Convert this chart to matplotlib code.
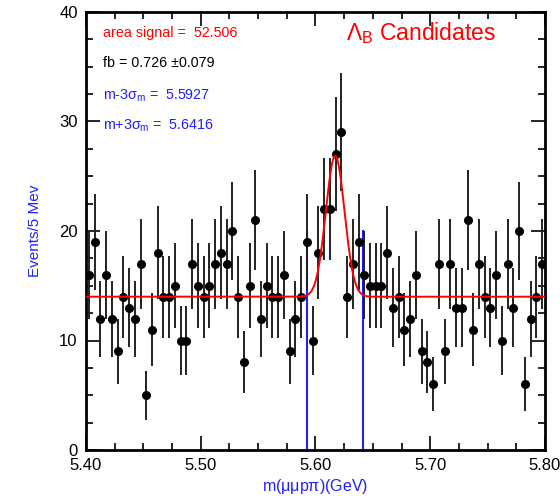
import numpy as np
import matplotlib
matplotlib.use("Agg")
import matplotlib.pyplot as plt
from matplotlib.ticker import MultipleLocator

plt.rcParams['font.family'] = ['Liberation Sans', 'DejaVu Sans']
plt.rcParams['mathtext.fontset'] = 'custom'
plt.rcParams['mathtext.rm'] = 'Liberation Sans'
plt.rcParams['mathtext.it'] = 'Liberation Sans'

# ---- data ----
x_min, x_max = 5.40, 5.80
bin_width = 0.005
counts = [16, 19, 12, 16, 12, 9, 14, 13, 12, 17,
          5, 11, 18, 14, 14, 15, 10, 10, 17, 15,
          14, 15, 17, 18, 17, 20, 14, 8, 15, 21,
          12, 15, 14, 14, 16, 9, 12, 14, 19, 10,
          18, 22, 22, 27, 29, 14, 17, 19, 16, 15,
          15, 15, 18, 13, 14, 11, 12, 16, 9, 8,
          6, 17, 9, 17, 13, 13, 21, 11, 17, 14,
          13, 16, 10, 17, 13, 20, 6, 12, 14, 17]
background = 14.0
area_signal = 52.506
m_low = 5.5927
m_high = 5.6416
window_line_height = 20
x_ticks = [5.40, 5.50, 5.60, 5.70, 5.80]
x_ticklabels = ["5.40", "5.50", "5.60", "5.70", "5.80"]
y_ticks = [0, 10, 20, 30, 40]

# ---- derived ----
counts = np.array(counts, dtype=float)
centers = x_min + bin_width * (np.arange(len(counts)) + 0.5)
errors = np.sqrt(counts)
mean = 0.5 * (m_low + m_high)
sigma = (m_high - m_low) / 6.0
amp = area_signal * bin_width / (sigma * np.sqrt(2 * np.pi))
xf = np.linspace(x_min, x_max, 2000)
yf = background + amp * np.exp(-0.5 * ((xf - mean) / sigma) ** 2)

fig = plt.figure(figsize=(5.60, 5.01), dpi=100)
ax = fig.add_axes([86/560, 1 - 450/501, (545-86)/560, (450-12)/501])

ax.plot([m_low, m_low], [0, window_line_height], color='#2020ff', lw=1.5, zorder=1)
ax.plot([m_high, m_high], [0, window_line_height], color='#2020ff', lw=1.5, zorder=1)
ax.errorbar(centers, counts, yerr=errors, fmt='o', color='black', ecolor='#222222',
            elinewidth=1.4, markersize=5.5, capsize=0, zorder=3)
ax.plot(xf, yf, color='#ff0000', lw=1.4, zorder=4)

ax.set_xlim(x_min, x_max)
ax.set_ylim(0, 40)
ax.set_xticks(x_ticks)
ax.set_xticklabels(x_ticklabels)
ax.set_yticks(y_ticks)
ax.xaxis.set_minor_locator(MultipleLocator(0.025))
ax.yaxis.set_minor_locator(MultipleLocator(2.5))
ax.tick_params(which='both', direction='in', top=True, right=True, labelsize=12,
               width=1.2, pad=6)
ax.tick_params(which='major', length=10)
ax.tick_params(which='minor', length=5)
for s in ax.spines.values():
    s.set_linewidth(2)

ax.set_xlabel(r'm($\mu\mu$p$\pi$)(GeV)', color='#2020ff', fontsize=11.5, labelpad=3)
ax.set_ylabel('Events/5 Mev', color='#2020ff', fontsize=11, labelpad=12)

fs = 10.3
ax.text(0.037, 0.952, 'area signal =  52.506', transform=ax.transAxes, color='#ff0000', fontsize=fs, va='center')
ax.text(0.037, 0.884, 'fb = 0.726 ±0.079', transform=ax.transAxes, color='black', fontsize=fs, va='center')
ax.text(0.037, 0.808, r'm-3$\sigma_\mathrm{m}$ =  5.5927', transform=ax.transAxes, color='#2020ff', fontsize=fs, va='center')
ax.text(0.037, 0.740, r'm+3$\sigma_\mathrm{m}$ =  5.6416', transform=ax.transAxes, color='#2020ff', fontsize=fs, va='center')
ax.text(0.567, 0.952, r'$\Lambda_\mathrm{B}$ Candidates', transform=ax.transAxes, color='#ff0000', fontsize=16.5, va='center')

fig.savefig('out.png', dpi=100)
